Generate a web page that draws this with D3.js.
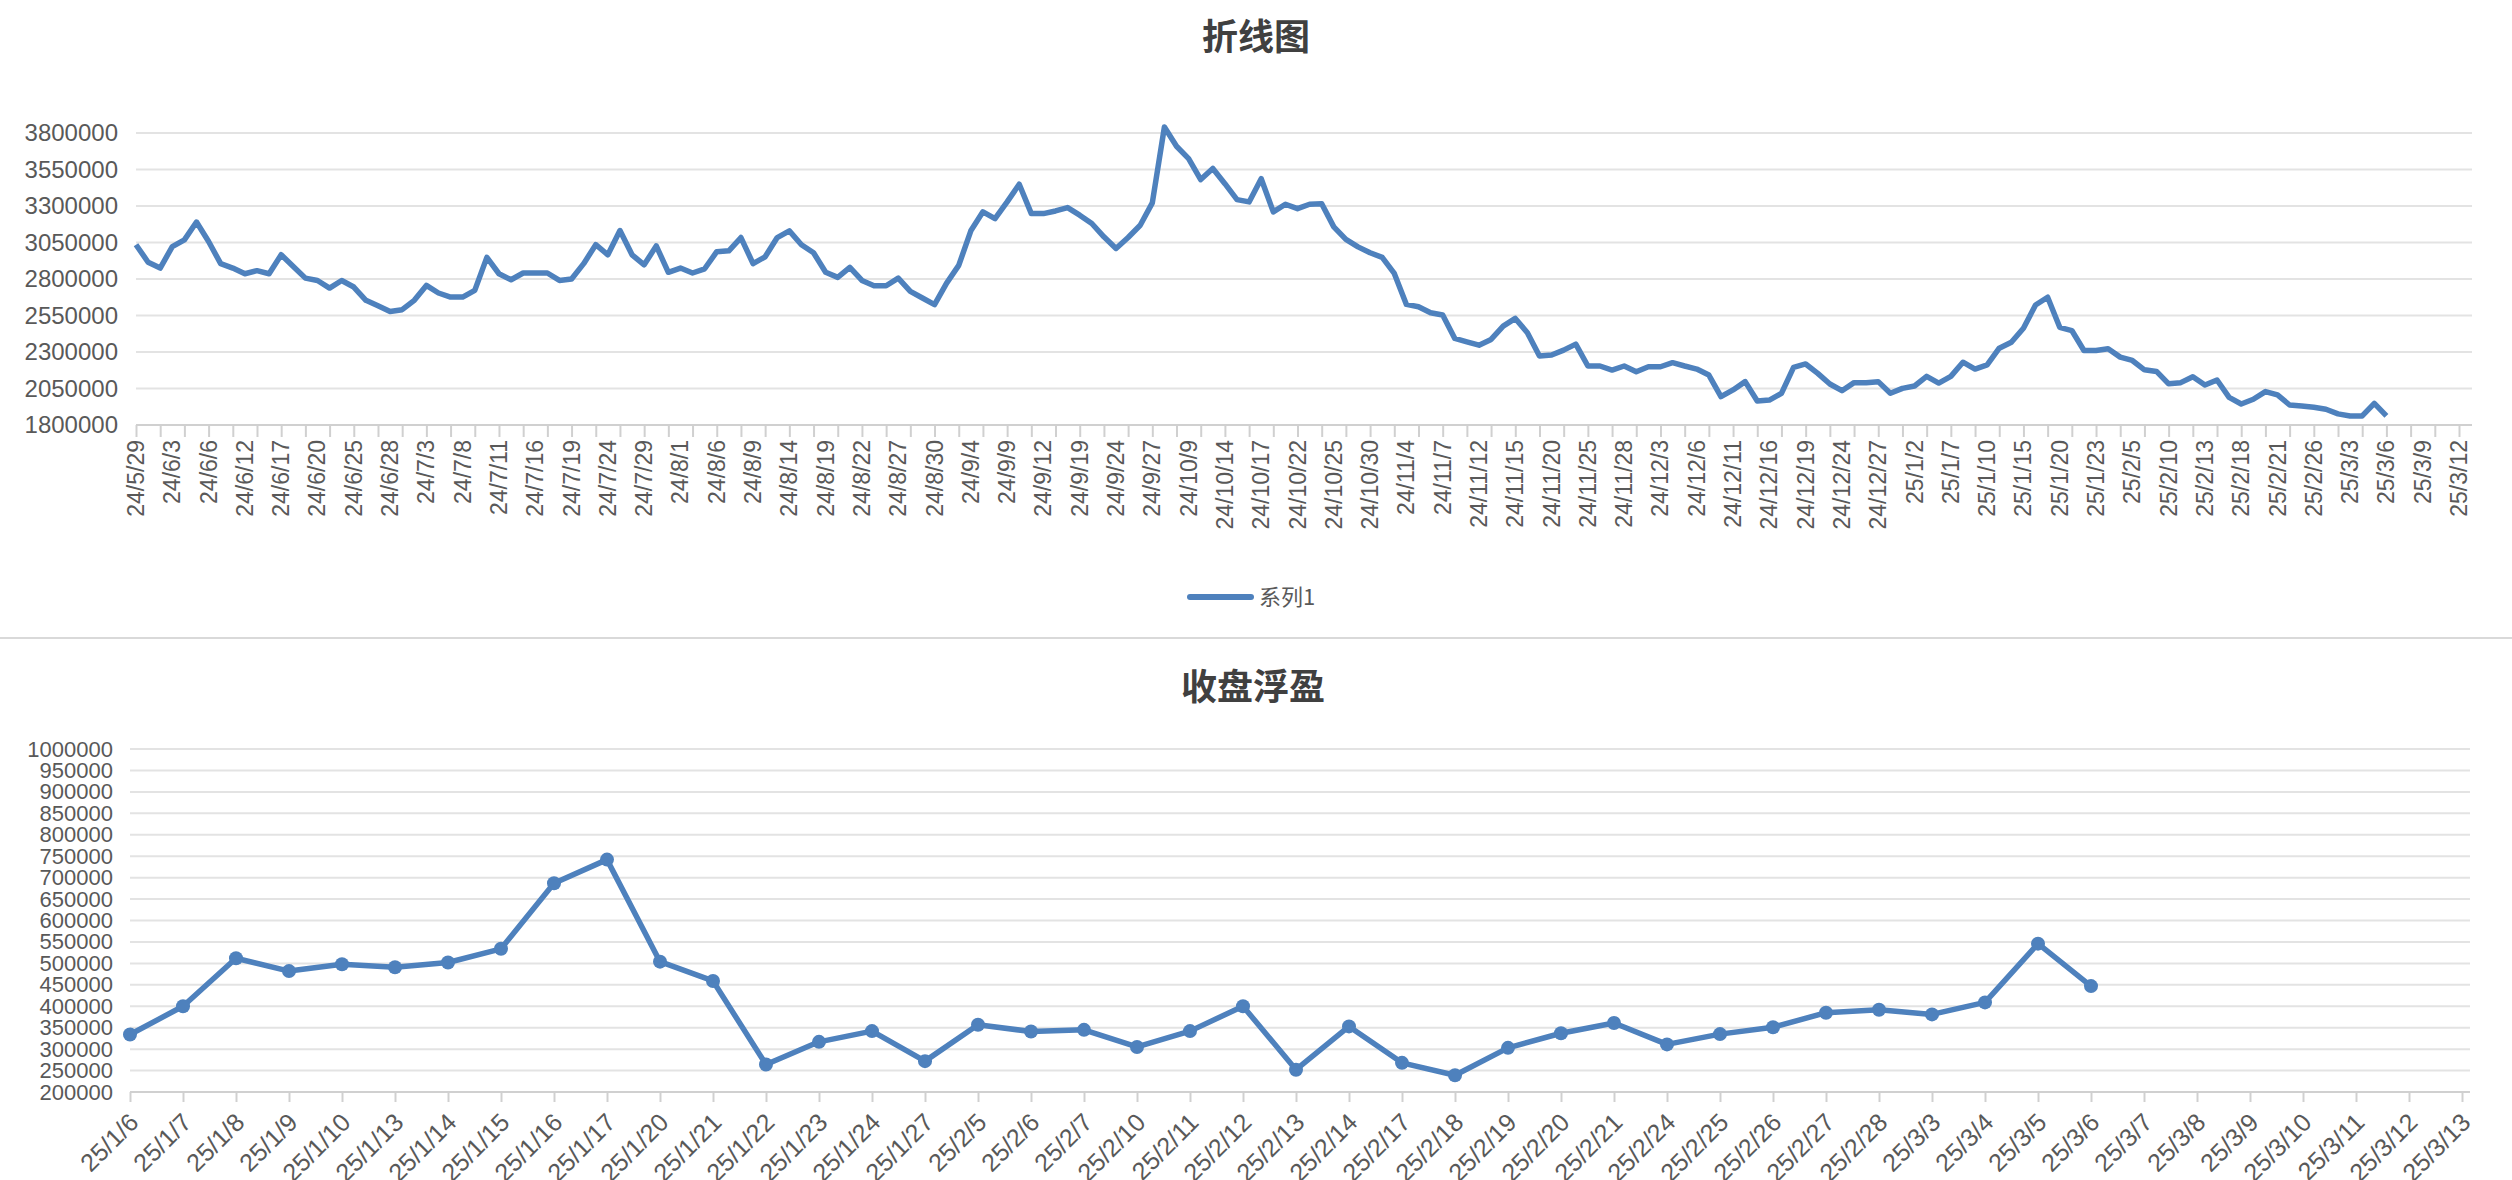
<!DOCTYPE html>
<html><head><meta charset="utf-8">
<script src="https://cdn.jsdelivr.net/npm/d3@7/dist/d3.min.js"></script>
<style>body{margin:0;background:#fff}text{font-family:"Liberation Sans",Arial,sans-serif}</style>
</head><body><svg id="c" width="2512" height="1180"></svg>
<script>
// ---- data ----
const holidays = ["2024-06-10","2024-09-16","2024-09-17","2024-10-01","2024-10-02","2024-10-03","2024-10-04","2024-10-07","2025-01-01","2025-01-28","2025-01-29","2025-01-30","2025-01-31","2025-02-03","2025-02-04"];
const topStart = "2024-05-29", topLastTrade = "2025-03-06", topEnd = "2025-03-12";
const botStart = "2025-01-06", botLastTrade = "2025-03-06", botEnd = "2025-03-13";
const topValues = [3035000,2915000,2875000,3022000,3068000,3190000,3057000,2905000,2875000,2836000,
2857000,2836000,2966000,2886000,2806000,2790000,2738000,2790000,2745000,2654000,
2617000,2578000,2590000,2654000,2756000,2704000,2676000,2676000,2722000,2948000,
2836000,2795000,2841000,2841000,2841000,2790000,2800000,2905000,3035000,2966000,
3132000,2966000,2897000,3027000,2846000,2875000,2841000,2870000,
2987000,2993000,3084000,2905000,2952000,3084000,3130000,3035000,2980000,2846000,
2811000,2880000,2790000,2754000,2754000,2806000,2715000,2670000,2625000,
2772000,2893000,3130000,3260000,3214000,3328000,3449000,3248000,3248000,
3266000,3289000,3237000,3180000,3089000,3009000,3084000,3168000,3321000,3841000,
3709000,3624000,3481000,3557000,3453000,3344000,3328000,3487000,3260000,3312000,3282000,3312000,
3316000,3157000,3071000,3020000,2980000,2948000,2838000,2626000,2610000,2569000,
2553000,2393000,2370000,2347000,2386000,2477000,2530000,2432000,2272000,2279000,
2313000,2354000,2204000,2204000,2176000,2204000,2165000,2199000,2199000,2227000,
2204000,2183000,2142000,1994000,2040000,2097000,1964000,1971000,2017000,2195000,
2218000,2154000,2081000,2035000,2090000,2090000,2097000,2017000,2051000,2067000,
2133000,2087000,2133000,2230000,2183000,2212000,2326000,2367000,2463000,2622000,
2675000,2469000,2447000,2310000,2310000,2322000,2265000,2242000,2178000,2167000,
2082000,2090000,2131000,2074000,2108000,1989000,1944000,1976000,2029000,2006000,
1937000,1930000,1921000,1908000,1876000,1862000,1862000,1948000,1862000];
const botValues = [334000,400000,512000,482000,498000,491000,502000,534000,687000,742000,
504000,459000,264000,317000,342000,272000,357000,341000,345000,305000,342000,400000,
252000,353000,268000,239000,303000,337000,361000,311000,335000,351000,385000,392000,381000,409000,546000,447000];
const topYTicks = [1800000,2050000,2300000,2550000,2800000,3050000,3300000,3550000,3800000];
const botYTicks = [200000,250000,300000,350000,400000,450000,500000,550000,600000,650000,700000,750000,800000,850000,900000,950000,1000000];
const topTitle = "折线图", botTitle = "收盘浮盈", legendName = "系列1";

function cats(start, lastTrade, end){
  const out=[]; const d=new Date(start+"T00:00:00Z"); const e=new Date(end+"T00:00:00Z"); const lt=new Date(lastTrade+"T00:00:00Z");
  while(d<=e){
    const iso=d.toISOString().slice(0,10), wd=d.getUTCDay();
    if(d>lt || (wd!==0&&wd!==6&&!holidays.includes(iso)))
      out.push(String(d.getUTCFullYear()%100)+"/"+(d.getUTCMonth()+1)+"/"+d.getUTCDate());
    d.setUTCDate(d.getUTCDate()+1);
  }
  return out;
}
const topCats = cats(topStart, topLastTrade, topEnd);
const botCats = cats(botStart, botLastTrade, botEnd);

const svg=d3.select("#c"), color="#4e81bd", grid="#e3e3e3", txt="#595959";

// ---- top chart ----
{
  const x=d3.scalePoint().domain(topCats).range([136,2459]);
  const y=d3.scaleLinear().domain([1800000,3800000]).range([425,133]);
  const g=svg.append("g");
  g.selectAll(".gl").data(topYTicks).join("line").attr("x1",136).attr("x2",2472).attr("y1",d=>y(d)).attr("y2",d=>y(d)).attr("stroke",grid).attr("stroke-width",2);
  g.append("g").attr("transform","translate(136,0)").call(d3.axisLeft(y).tickValues(topYTicks).tickSize(0).tickPadding(18).tickFormat(d3.format("d")))
   .call(a=>a.select(".domain").remove()).selectAll("text").attr("font-size",24).attr("fill",txt);
  const ax=g.append("g").attr("transform","translate(0,425)").call(d3.axisBottom(x).tickSize(12).tickFormat(""));
  ax.select(".domain").attr("d","M136,0H2472").attr("stroke","#d0d0d0").attr("stroke-width",2);
  ax.selectAll(".tick").filter((d,i)=>i%2!==0).select("line").remove();
  ax.selectAll(".tick line").attr("stroke","#d0d0d0").attr("stroke-width",2);
  g.selectAll(".xl").data(topCats.filter((d,i)=>i%3===0)).join("text")
   .attr("transform",d=>`translate(${x(d)+8},${440}) rotate(-90)`).attr("text-anchor","end").attr("font-size",23).attr("fill",txt).text(d=>d);
  g.append("path").datum(topValues).attr("fill","none").attr("stroke",color).attr("stroke-width",5.5).attr("stroke-linejoin","round")
   .attr("d",d3.line().x((d,i)=>x(topCats[i])).y(d=>y(d)));
  g.append("text").attr("x",1256).attr("y",50).attr("text-anchor","middle").attr("font-size",36).attr("font-weight","bold").attr("fill","#404040").style("font-family","Noto Sans CJK SC").text(topTitle);
  g.append("line").attr("x1",1190).attr("x2",1251).attr("y1",597).attr("y2",597).attr("stroke",color).attr("stroke-width",6).attr("stroke-linecap","round");
  g.append("text").attr("x",1259).attr("y",605).attr("font-size",22).attr("fill",txt).style("font-family","Noto Sans CJK SC").text(legendName);
  svg.append("line").attr("x1",0).attr("x2",2512).attr("y1",638).attr("y2",638).attr("stroke","#d9d9d9").attr("stroke-width",2);
}
// ---- bottom chart ----
{
  const x=d3.scalePoint().domain(botCats).range([130,2462]);
  const y=d3.scaleLinear().domain([200000,1000000]).range([1092,749]);
  const g=svg.append("g");
  g.selectAll(".gl").data(botYTicks).join("line").attr("x1",130).attr("x2",2470).attr("y1",d=>y(d)).attr("y2",d=>y(d)).attr("stroke",grid).attr("stroke-width",2);
  g.append("g").attr("transform","translate(130,0)").call(d3.axisLeft(y).tickValues(botYTicks).tickSize(0).tickPadding(17).tickFormat(d3.format("d")))
   .call(a=>a.select(".domain").remove()).selectAll("text").attr("font-size",22).attr("fill",txt);
  const ax=g.append("g").attr("transform","translate(0,1092)").call(d3.axisBottom(x).tickSize(10).tickFormat(""));
  ax.select(".domain").attr("d","M130,0H2470").attr("stroke","#d0d0d0").attr("stroke-width",2);
  ax.selectAll(".tick line").attr("stroke","#d0d0d0").attr("stroke-width",2);
  g.selectAll(".xl").data(botCats).join("text")
   .attr("transform",d=>`translate(${x(d)+10},${1124}) rotate(-45)`).attr("text-anchor","end").attr("font-size",25).attr("fill",txt).text(d=>d);
  g.append("path").datum(botValues).attr("fill","none").attr("stroke",color).attr("stroke-width",5.5).attr("stroke-linejoin","round")
   .attr("d",d3.line().x((d,i)=>x(botCats[i])).y(d=>y(d)));
  g.selectAll(".pt").data(botValues).join("circle").attr("cx",(d,i)=>x(botCats[i])).attr("cy",d=>y(d)).attr("r",7).attr("fill",color);
  g.append("text").attr("x",1253).attr("y",700).attr("text-anchor","middle").attr("font-size",36).attr("font-weight","bold").attr("fill","#404040").style("font-family","Noto Sans CJK SC").text(botTitle);
}
</script></body></html>
